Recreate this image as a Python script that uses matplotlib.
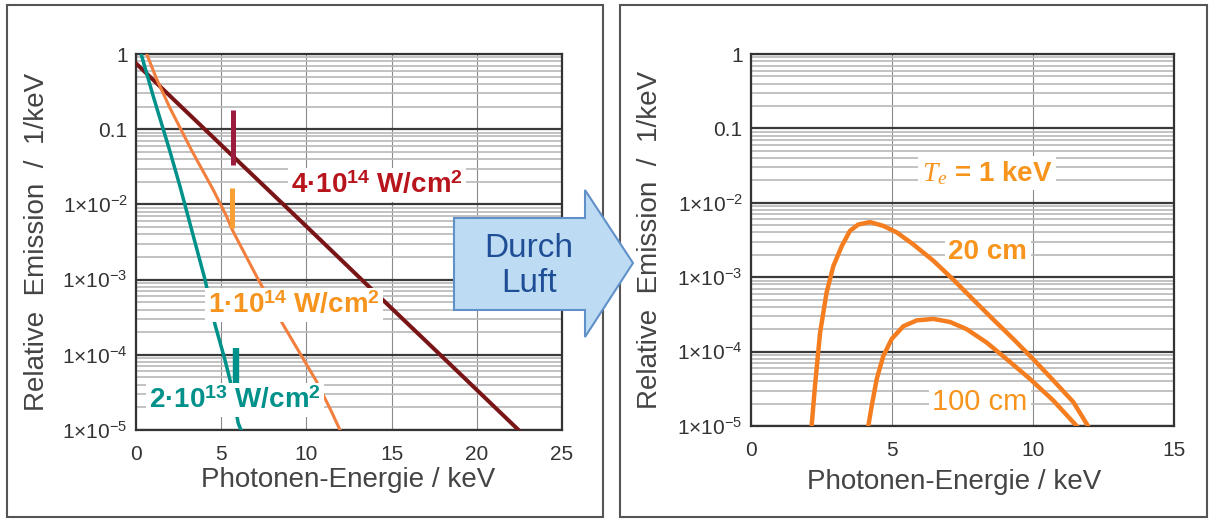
import matplotlib
matplotlib.use("Agg")
import matplotlib.pyplot as plt
from matplotlib.patches import Polygon, Rectangle
from matplotlib.ticker import LogLocator, NullFormatter

plt.rcParams["font.family"] = ["Liberation Sans", "DejaVu Sans"]
plt.rcParams["mathtext.fontset"] = "custom"
plt.rcParams["mathtext.rm"] = "Liberation Sans"
plt.rcParams["mathtext.it"] = "Liberation Serif:italic"
plt.rcParams["mathtext.bf"] = "Liberation Sans:bold"

# --- data ------------------------------------------------------------------
# left panel: plasma emission spectra for three laser intensities
e_4e14 = [0.0, 2.0, 5.5, 10.0, 13.2, 18.0, 22.45]
s_4e14 = [0.75, 0.276, 0.048, 0.0051, 1.02e-3, 9.3e-5, 1.0e-5]

e_1e14 = [0.63, 1.2, 2.0, 3.27, 4.54, 5.32, 5.61, 5.81, 7.08, 8.64, 10.6, 11.48, 11.97]
s_1e14 = [1.0, 0.47, 0.19, 0.052, 0.0155, 0.0069, 0.0048, 0.0039, 0.0011,
          2.5e-4, 4.4e-5, 1.74e-5, 1.0e-5]

e_2e13 = [0.3, 1.0, 2.0, 2.58, 3.3, 4.05, 4.64, 5.2, 5.52, 6.0, 6.25]
s_2e13 = [1.0, 0.28, 0.05, 0.0174, 0.0043, 0.001, 2.5e-4, 8.9e-5, 4.6e-5,
          1.23e-5, 8.9e-6]

# line emission markers near 5.7 keV: (energy, bottom, top)
line_4e14 = (5.71, 0.033, 0.18)
line_1e14 = (5.66, 0.0048, 0.0163)
line_2e13 = (5.85, 3.6e-5, 1.23e-4)

# right panel: spectrum after passing through air (Te = 1 keV)
e_20cm = [2.15, 2.27, 2.45, 2.68, 2.92, 3.22, 3.51, 3.80, 4.22, 4.69, 5.17,
          5.76, 6.47, 7.17, 7.88, 8.59, 9.30, 10.01, 10.72, 11.43, 11.95]
s_20cm = [1.0e-5, 3.5e-5, 1.8e-4, 6.2e-4, 1.41e-3, 2.63e-3, 4.2e-3, 5.1e-3,
          5.5e-3, 4.9e-3, 4.0e-3, 2.75e-3, 1.66e-3, 9.3e-4, 5.0e-4, 2.7e-4,
          1.48e-4, 7.9e-5, 4.1e-5, 2.1e-5, 1.0e-5]

e_100cm = [4.16, 4.28, 4.46, 4.69, 4.99, 5.40, 5.88, 6.47, 7.06, 7.65, 8.36,
           9.07, 9.89, 10.72, 11.55]
s_100cm = [1.0e-5, 1.86e-5, 4.3e-5, 8.7e-5, 1.48e-4, 2.19e-4, 2.63e-4, 2.75e-4,
           2.5e-4, 2.0e-4, 1.32e-4, 7.9e-5, 4.3e-5, 2.2e-5, 1.0e-5]

y_ticks = [1, 0.1, 1e-2, 1e-3, 1e-4, 1e-5]
y_ticklabels = ["1", "0.1", r"$1{\times}10^{-2}$", r"$1{\times}10^{-3}$",
                r"$1{\times}10^{-4}$", r"$1{\times}10^{-5}$"]
x_ticks_left = [0, 5, 10, 15, 20, 25]
x_ticks_right = [0, 5, 10, 15]

C_DARKRED = "#7a1517"
C_CRIMSON = "#9c1c40"
C_LABELRED = "#b8141c"
C_ORANGE = "#f37f3e"
C_ORANGE2 = "#f8a033"
C_LABELOR = "#f7941d"
C_TEAL = "#00918b"
C_AIR = "#f47d20"

W, H = 1212, 520


def frac(px, py):
    return px / W, 1 - py / H


def style_axes(ax, xmax, xticks):
    ax.set_yscale("log")
    ax.set_ylim(1e-5, 1)
    ax.set_xlim(0, xmax)
    ax.set_xticks(xticks)
    ax.set_yticks(y_ticks, y_ticklabels)
    ax.yaxis.set_minor_locator(LogLocator(base=10, subs=range(2, 10), numticks=20))
    ax.yaxis.set_minor_formatter(NullFormatter())
    ax.grid(True, which="major", axis="y", color="#3a3a3a", lw=1.6)
    ax.grid(True, which="minor", axis="y", color="#b8b8b8", lw=1.2)
    ax.grid(True, which="major", axis="x", color="#8a8a8a", lw=0.8)
    ax.set_axisbelow(True)
    ax.tick_params(which="both", length=0, labelsize=15, labelcolor="#333333")
    ax.tick_params(axis="x", pad=11)
    ax.tick_params(axis="y", pad=6)
    for sp in ax.spines.values():
        sp.set_color("#333333")
        sp.set_linewidth(1.6)
    ax.set_xlabel("Photonen-Energie / keV", fontsize=20, color="#444444")
    ax.set_ylabel("Relative  Emission  /  1/keV", fontsize=20, color="#444444")


fig = plt.figure(figsize=(W / 100, H / 100), dpi=100)

# panel frames
for x0, x1 in [(7, 603), (620, 1207)]:
    fx0, fy0 = frac(x0, 517)
    fx1, fy1 = frac(x1, 5)
    fig.patches.append(Rectangle((fx0, fy0), fx1 - fx0, fy1 - fy0,
                                 transform=fig.transFigure, fill=False,
                                 edgecolor="#555555", lw=1.5))

ax1 = fig.add_axes([136 / W, 90 / H, 426 / W, 376 / H])
ax2 = fig.add_axes([751 / W, 94 / H, 423 / W, 372 / H])

# --- left panel ------------------------------------------------------------
style_axes(ax1, 25, x_ticks_left)
ax1.plot(e_4e14, s_4e14, color=C_DARKRED, lw=2.9, zorder=3)
ax1.plot(e_1e14, s_1e14, color=C_ORANGE, lw=2.2, zorder=3)
ax1.plot(e_2e13, s_2e13, color=C_TEAL, lw=2.5, zorder=3)
for (x, lo, hi), c, lw in [(line_4e14, C_CRIMSON, 3.6), (line_1e14, C_ORANGE2, 3.6),
                           (line_2e13, C_TEAL, 4.6)]:
    ax1.vlines(x, lo, hi, color=c, lw=lw, zorder=4)

box = dict(boxstyle="square,pad=0.12", facecolor="white", edgecolor="none")
ax1.text(0.566, 0.652, r"4·10$^{\mathbf{14}}$ W/cm$^{\mathbf{2}}$", transform=ax1.transAxes,
         ha="center", va="center", fontsize=20, fontweight="bold", color=C_LABELRED,
         bbox=box, zorder=5)
ax1.text(0.371, 0.332, r"1·10$^{\mathbf{14}}$ W/cm$^{\mathbf{2}}$", transform=ax1.transAxes,
         ha="center", va="center", fontsize=20, fontweight="bold", color=C_LABELOR,
         bbox=box, zorder=5)
ax1.text(0.232, 0.080, r"2·10$^{\mathbf{13}}$ W/cm$^{\mathbf{2}}$", transform=ax1.transAxes,
         ha="center", va="center", fontsize=20, fontweight="bold", color=C_TEAL,
         bbox=box, zorder=5)
ax1.xaxis.set_label_coords(0.498, -0.133)
ax1.xaxis.label.set_va("center")
ax1.yaxis.set_label_coords(-0.232, 0.5)
ax1.yaxis.label.set_va("center")

# --- right panel -----------------------------------------------------------
style_axes(ax2, 15, x_ticks_right)
ax2.plot(e_20cm, s_20cm, color=C_AIR, lw=3.2, zorder=3, solid_joinstyle="round")
ax2.plot(e_100cm, s_100cm, color=C_AIR, lw=3.2, zorder=3, solid_joinstyle="round")
ax2.text(0.558, 0.680, r"$T_e$ = 1 keV", transform=ax2.transAxes, ha="center",
         va="center", fontsize=20, fontweight="bold", color=C_LABELOR, bbox=box, zorder=5)
ax2.text(0.560, 0.468, "20 cm", transform=ax2.transAxes, ha="center", va="center",
         fontsize=20, fontweight="bold", color=C_LABELOR, bbox=box, zorder=5)
ax2.text(0.541, 0.065, "100 cm", transform=ax2.transAxes, ha="center", va="center",
         fontsize=21, color=C_LABELOR, bbox=box, zorder=5)
ax2.xaxis.set_label_coords(0.481, -0.15)
ax2.xaxis.label.set_va("center")
ax2.yaxis.set_label_coords(-0.239, 0.5)
ax2.yaxis.label.set_va("center")

# --- "Durch Luft" block arrow ----------------------------------------------
arrow_px = [(454, 218), (585, 218), (585, 190), (633, 263), (585, 337),
            (585, 310), (454, 310)]
fig.patches.append(Polygon([frac(x, y) for x, y in arrow_px], closed=True,
                           transform=fig.transFigure, facecolor="#bddcf3",
                           edgecolor="#5f90c8", lw=1.5, zorder=10))
tx, ty = frac(529, 266)
fig.text(tx, ty, "Durch\nLuft", ha="center", va="center", fontsize=24,
         color="#1f4e96", linespacing=1.2, zorder=11)

fig.savefig("out.png", dpi=100)
